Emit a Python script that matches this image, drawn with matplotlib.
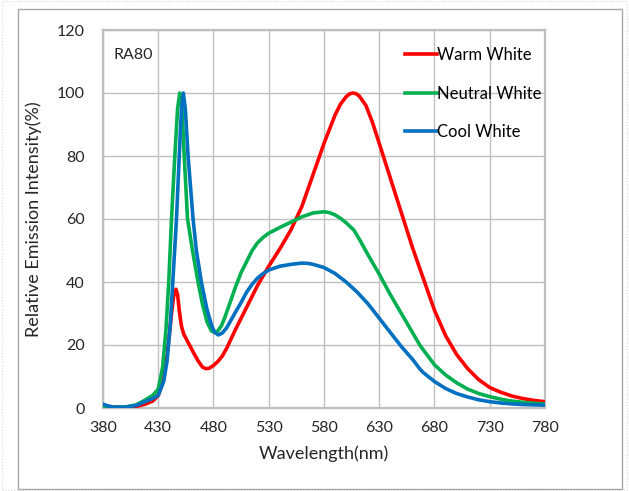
import matplotlib.pyplot as plt
from matplotlib.patches import Rectangle

plt.rcParams['font.family'] = ['Lato', 'DejaVu Sans']

# === Datos ===
warm_wl = [380, 390, 400, 410, 418, 425, 430, 434, 437, 440, 442, 444, 446, 447.5,
           449, 451, 453, 456, 459, 462, 466, 470, 473, 476, 480, 484, 488, 492,
           496, 500, 505, 510, 515, 520, 525, 530, 540, 550, 560, 570, 580, 585,
           590, 595, 600, 603, 606, 609, 612, 618, 624, 630, 640, 650, 660, 670,
           680, 690, 700, 710, 720, 730, 740, 750, 760, 770, 780]
warm_val = [0.8, 0.2, 0.2, 0.5, 1.2, 2.2, 4, 8, 14, 23, 30, 35.5, 37.7, 36,
            31, 26, 23.5, 21.5, 19.5, 17.5, 15, 13, 12.5, 12.6, 13.5, 14.8, 16.5, 19,
            22, 25, 28.5, 32, 35.5, 39, 42, 45, 50.5, 56.5, 64, 74, 84, 88.5,
            93, 96.5, 98.8, 99.7, 100, 99.8, 99, 96, 90.5, 84, 73, 62, 51, 41,
            31, 23, 17, 12.5, 9, 6.5, 5, 3.8, 3, 2.4, 2]

neutral_wl = [380, 390, 400, 410, 418, 425, 430, 434, 437, 439.5, 442, 445, 447.5,
              449.5, 451.5, 453.5, 456.5, 461, 466, 470, 474, 478, 481, 484, 487,
              490, 495, 500, 505, 510, 515, 520, 525, 530, 540, 550, 560, 570, 580,
              585, 590, 595, 600, 607, 613, 620, 630, 640, 650, 660, 667, 680, 690,
              700, 710, 720, 730, 740, 750, 760, 770, 780]
neutral_val = [0.5, 0.2, 0.3, 1, 2.5, 4, 6, 13, 25, 40, 60, 80, 95,
               100, 95, 80, 60, 50, 40, 33, 27.5, 24.5, 24, 24.5, 26,
               28.5, 33.5, 38.5, 43, 46.5, 50, 52.5, 54.2, 55.5, 57.3, 59, 60.7, 61.9, 62.3,
               62, 61.3, 60.2, 58.8, 56.5, 53, 48.5, 42.5, 36, 30, 24, 19.8, 13.7, 10.5,
               8, 6, 4.6, 3.6, 2.8, 2.2, 1.8, 1.5, 1.3]

cool_wl = [380, 385, 390, 400, 410, 418, 425, 430, 435, 438, 441, 443.5, 446.5,
           449, 451, 452.7, 454.5, 457, 461.5, 464.5, 469, 474, 478, 481, 484.4,
           488, 492, 496, 500, 505, 510, 515, 520, 525, 530, 540, 550, 560, 566,
           570, 580, 590, 600, 610, 620, 630, 640, 650, 660, 667, 670, 680, 690,
           700, 710, 720, 730, 740, 750, 760, 770, 780]
cool_val = [1.2, 0.6, 0.3, 0.3, 0.8, 2, 3, 4, 8.5, 15, 27, 42, 60,
            80, 95, 100, 95, 80, 60, 50, 40, 31.5, 26.5, 24, 23.2,
            23.8, 25.5, 28, 30.5, 33.5, 36.8, 39.3, 41.3, 42.7, 43.8, 45, 45.6, 46, 45.9,
            45.6, 44.6, 42.7, 40, 36.8, 33, 28.5, 24, 19.5, 15.5, 12.3, 11.2, 8.4, 6.2,
            4.6, 3.5, 2.6, 2, 1.6, 1.3, 1.1, 1, 0.9]

x_ticks = [380, 430, 480, 530, 580, 630, 680, 730, 780]
y_ticks = [0, 20, 40, 60, 80, 100, 120]

GRID = "#bfbfbf"

fig = plt.figure(figsize=(6.29, 4.91), dpi=100)
ax = fig.add_axes([103 / 629, 1 - 408 / 491, 442 / 629, 378 / 491])

ax.plot(warm_wl, warm_val, color="#ff0000", lw=2.6, label="Warm White", zorder=3)
ax.plot(neutral_wl, neutral_val, color="#00b050", lw=2.6, label="Neutral White", zorder=3)
ax.plot(cool_wl, cool_val, color="#0070c0", lw=2.6, label="Cool White", zorder=4)

ax.set_xlim(380, 780)
ax.set_ylim(0, 120)
ax.set_xticks(x_ticks)
ax.set_yticks(y_ticks)
ax.grid(True, color=GRID, lw=1.0)
ax.set_axisbelow(True)
for s in ax.spines.values():
    s.set_color(GRID)
    s.set_linewidth(1.6)
ax.tick_params(axis="both", length=0, labelsize=11.5, colors="#262626")
ax.tick_params(axis="y", pad=13)
ax.tick_params(axis="x", pad=9)

ax.set_xlabel("Wavelength(nm)", fontsize=13, labelpad=8, color="#262626")
ax.set_ylabel("Relative Emission Intensity(%)", fontsize=13, labelpad=11, color="#262626")

ax.text(0.023, 0.934, "RA80", transform=ax.transAxes, fontsize=11.5,
        va="center", ha="left", color="#262626")

ax.legend(loc="upper left", bbox_to_anchor=(0.683, 0.955), frameon=False,
          fontsize=12, handlelength=1.9, handletextpad=0.05, labelspacing=1.35,
          borderpad=0, borderaxespad=0)

# marco exterior
fig.patches.append(Rectangle((18 / 629, 1 - 489 / 491), 604 / 629, 480 / 491,
                             transform=fig.transFigure, fill=False,
                             edgecolor="#a6a6a6", lw=1.0))
fig.patches.append(Rectangle((0.003, 0.003), 0.994, 0.994,
                             transform=fig.transFigure, fill=False,
                             edgecolor="#d9d9d9", lw=0.8, ls=":"))

fig.savefig("out.png", dpi=100)
